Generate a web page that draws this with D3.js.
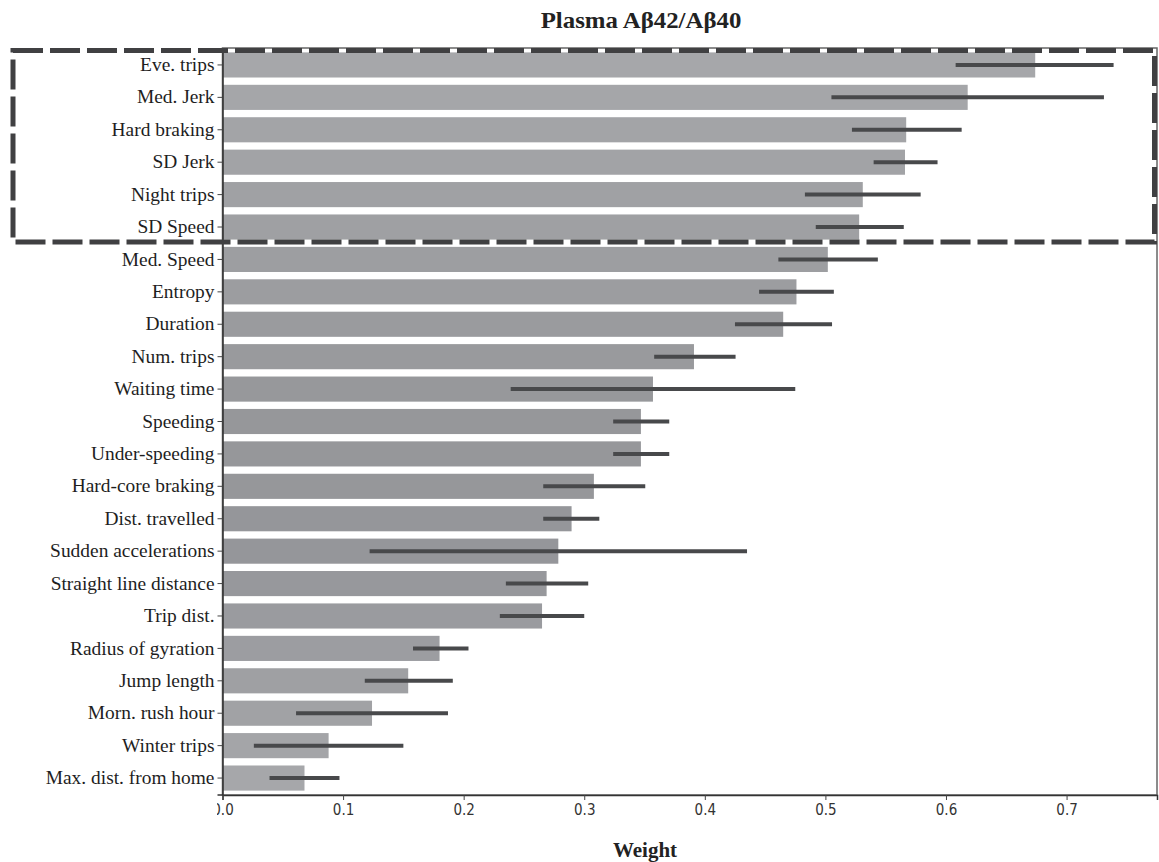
<!DOCTYPE html>
<html>
<head>
<meta charset="utf-8">
<script src="https://cdn.jsdelivr.net/npm/d3@7"></script>
<style>
  html, body { margin: 0; padding: 0; background: #fff; }
  svg { display: block; }
</style>
</head>
<body>
<svg id="chart" width="1159" height="862"></svg>
<script>
// ---- data ----
const features = [
  "Eve. trips", "Med. Jerk", "Hard braking", "SD Jerk", "Night trips", "SD Speed",
  "Med. Speed", "Entropy", "Duration", "Num. trips", "Waiting time", "Speeding",
  "Under-speeding", "Hard-core braking", "Dist. travelled", "Sudden accelerations",
  "Straight line distance", "Trip dist.", "Radius of gyration", "Jump length",
  "Morn. rush hour", "Winter trips", "Max. dist. from home"
];
const weights = [
  0.674, 0.618, 0.567, 0.566, 0.531, 0.528,
  0.502, 0.476, 0.465, 0.391, 0.357, 0.347,
  0.347, 0.308, 0.2895, 0.2785,
  0.2688, 0.265, 0.180, 0.154,
  0.124, 0.088, 0.068
];
const errLow = [
  0.608, 0.505, 0.522, 0.540, 0.483, 0.492,
  0.461, 0.445, 0.425, 0.358, 0.239, 0.324,
  0.324, 0.266, 0.266, 0.122,
  0.235, 0.230, 0.158, 0.118,
  0.061, 0.026, 0.039
];
const errHigh = [
  0.739, 0.731, 0.613, 0.593, 0.579, 0.565,
  0.5435, 0.507, 0.5055, 0.4255, 0.475, 0.3705,
  0.3705, 0.3506, 0.3125, 0.435,
  0.3033, 0.300, 0.204, 0.191,
  0.187, 0.150, 0.097
];
const xTicks = [0, 0.1, 0.2, 0.3, 0.4, 0.5, 0.6, 0.7];
const highlighted = features.slice(0, 6);   // features in the dashed box
const titleText = "Plasma A\u03b242/A\u03b240";
const xLabel = "Weight";

// ---- layout ----
const svg = d3.select("#chart");
const plot = { left: 222.5, right: 1157, top: 48, bottom: 795 };

const x = d3.scaleLinear().domain([0, 0.775]).range([plot.left, plot.right]);
const y = d3.scaleBand().domain(features).range([plot.top + 0.5, plot.bottom - 0.5])
  .paddingInner(0.225).paddingOuter(0.12);

const barColor = d3.scaleLinear()
  .domain([0, 11, 15, 22])
  .range(["#a6a7aa", "#96979a", "#95969a", "#a6a7aa"]);

svg.append("rect").attr("width", 1159).attr("height", 862).attr("fill", "#fff");

// bars
svg.append("g").selectAll("rect").data(features).join("rect")
  .attr("x", x(0))
  .attr("y", d => y(d))
  .attr("width", (d, i) => x(weights[i]) - x(0))
  .attr("height", y.bandwidth())
  .attr("fill", (d, i) => barColor(i));

// error bars
svg.append("g").selectAll("line").data(features).join("line")
  .attr("x1", (d, i) => x(errLow[i]))
  .attr("x2", (d, i) => x(errHigh[i]))
  .attr("y1", d => y(d) + y.bandwidth() / 2)
  .attr("y2", d => y(d) + y.bandwidth() / 2)
  .attr("stroke", "#48494b")
  .attr("stroke-width", 4);

// frame
svg.append("rect")
  .attr("x", plot.left).attr("y", plot.top)
  .attr("width", plot.right - plot.left).attr("height", plot.bottom - plot.top)
  .attr("fill", "none").attr("stroke", "#666").attr("stroke-width", 1.5);

// y axis
const yAxis = svg.append("g")
  .attr("transform", `translate(${plot.left},0)`)
  .call(d3.axisLeft(y).tickSize(5).tickPadding(3));
yAxis.select(".domain").attr("stroke", "#333").attr("stroke-width", 1.5);
yAxis.selectAll(".tick line").attr("stroke", "#444").attr("stroke-width", 1);
yAxis.selectAll(".tick text")
  .attr("font-family", "'Liberation Serif', 'Times New Roman', serif")
  .attr("font-size", 18.5)
  .attr("fill", "#1e1e1e")
  .attr("dy", "0.33em")
  .each(function () {
    const t = d3.select(this);
    const xx = +t.attr("x");
    t.attr("x", null).attr("transform", `translate(${xx},0) scale(1.05,1)`);
  });

// x axis
const defs = svg.append("defs");
defs.append("clipPath").attr("id", "xclipLbl")
  .append("rect").attr("x", -6).attr("y", 0).attr("width", 40).attr("height", 40);
const xAxis = svg.append("g")
  .attr("transform", `translate(0,${plot.bottom})`)
  .call(d3.axisBottom(x).tickValues(xTicks).tickFormat(d3.format(".1f")).tickSize(5).tickPadding(4));
xAxis.select(".domain").attr("stroke", "#333").attr("stroke-width", 1.5);
xAxis.selectAll(".tick line").attr("stroke", "#444");
xAxis.selectAll(".tick text")
  .attr("font-family", "'DejaVu Sans', sans-serif")
  .attr("font-stretch", "condensed")
  .attr("font-size", 15)
  .attr("fill", "#333")
  .attr("clip-path", (d) => d === 0 ? "url(#xclipLbl)" : null);

// highlight dashed box
svg.append("rect")
  .attr("x", 13).attr("y", 50.5)
  .attr("width", 1141.5).attr("height", 191.5)
  .attr("fill", "none")
  .attr("stroke", "#404042")
  .attr("stroke-width", 5)
  .attr("stroke-dasharray", "30,7")
  .datum(highlighted);

// title
svg.append("text")
  .attr("x", 641).attr("y", 28)
  .attr("text-anchor", "middle")
  .attr("font-family", "'Liberation Serif', 'Times New Roman', serif")
  .attr("font-weight", "bold")
  .attr("font-size", 23)
  .attr("fill", "#222")
  .attr("transform", "translate(641,0) scale(1.08,1) translate(-641,0)")
  .text(titleText);

// x label
svg.append("text")
  .attr("x", 645).attr("y", 857)
  .attr("text-anchor", "middle")
  .attr("font-family", "'Liberation Serif', 'Times New Roman', serif")
  .attr("font-weight", "bold")
  .attr("font-size", 21)
  .attr("fill", "#222")
  .text(xLabel);
</script>
</body>
</html>
